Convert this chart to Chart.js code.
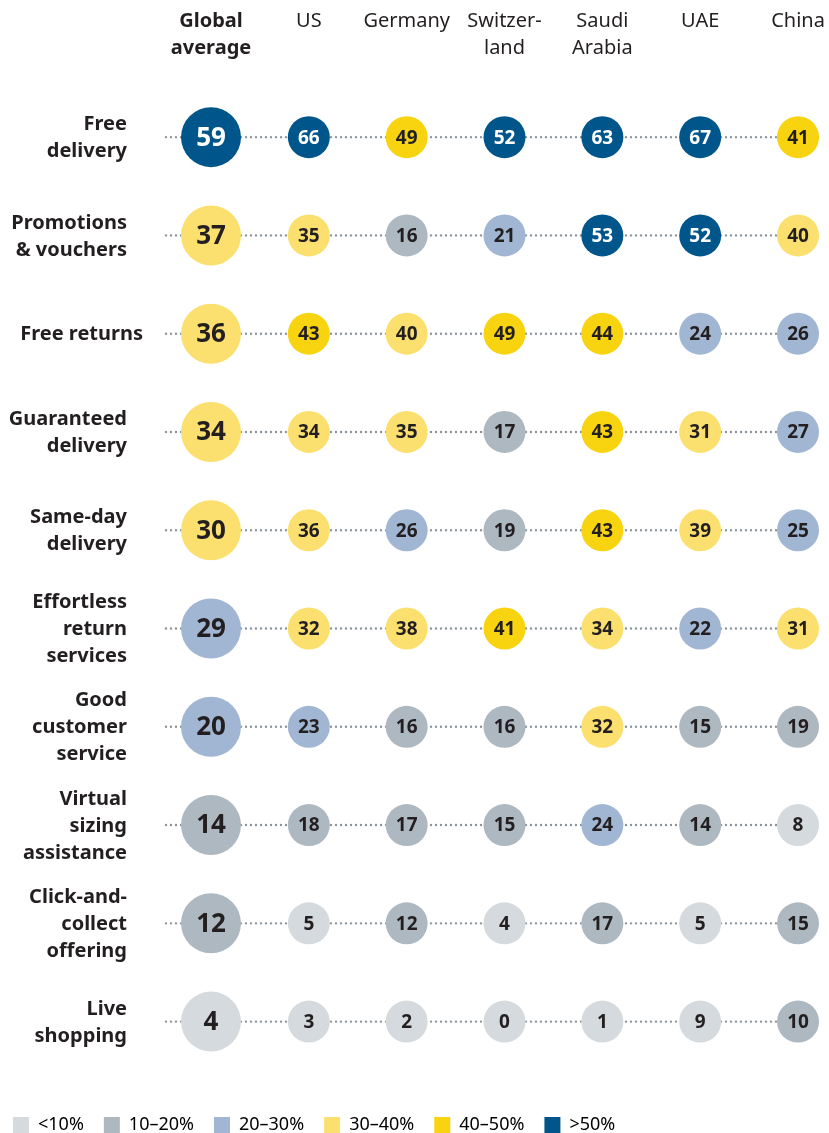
<!DOCTYPE html>
<html>
<head>
<meta charset="utf-8">
<script src="https://cdn.jsdelivr.net/npm/chart.js@4"></script>
<style>
  body { margin: 0; background: #fff; }
  #wrap { width: 829px; height: 1133px; }
</style>
</head>
<body>
<div id="wrap"><canvas id="bubbleChart" width="829" height="1133"></canvas></div>
<script>
// columns (countries) and their header lines
const columns = ['Global average', 'US', 'Germany', 'Switzerland', 'Saudi Arabia', 'UAE', 'China'];
const columnHeaders = [['Global', 'average'], ['US'], ['Germany'], ['Switzer-', 'land'], ['Saudi', 'Arabia'], ['UAE'], ['China']];

// rows (delivery / service features)
const features = [
    ['Free', 'delivery'],
    ['Promotions', '& vouchers'],
    ['Free returns'],
    ['Guaranteed', 'delivery'],
    ['Same-day', 'delivery'],
    ['Effortless', 'return', 'services'],
    ['Good', 'customer', 'service'],
    ['Virtual', 'sizing', 'assistance'],
    ['Click-and-', 'collect', 'offering'],
    ['Live', 'shopping']
];

// share of respondents, %, one array per column, in row order
const globalAvg   = [59, 37, 36, 34, 30, 29, 20, 14, 12, 4];
const us          = [66, 35, 43, 34, 36, 32, 23, 18, 5, 3];
const germany     = [49, 16, 40, 35, 26, 38, 16, 17, 12, 2];
const switzerland = [52, 21, 49, 17, 19, 41, 16, 15, 4, 0];
const saudi       = [63, 53, 44, 43, 43, 34, 32, 24, 17, 1];
const uae         = [67, 52, 24, 31, 39, 22, 15, 14, 5, 9];
const china       = [41, 40, 26, 27, 25, 31, 19, 8, 15, 10];

const binLabels = ['<10%', '10–20%', '20–30%', '30–40%', '40–50%', '>50%'];
const binColors = ['#d5dade', '#aeb8c1', '#a1b6d3', '#fbe06f', '#f8d30f', '#00568b'];

const seriesByColumn = [globalAvg, us, germany, switzerland, saudi, uae, china];

function binOf(v) {
    // printed values are rounded, 40 falls in the 30-40 band
    if (v < 10) return 0;
    if (v < 20) return 1;
    if (v < 30) return 2;
    if (v <= 40) return 3;
    if (v < 50) return 4;
    return 5;
}

const LINE_START = -0.46;   // dotted guides start a little left of the first column
const FONT = '"Noto Sans", sans-serif';
const INK = '#231f20';

const datasets = [];

// dotted row guides
features.forEach((f, r) => {
    datasets.push({
        type: 'line',
        data: [{ x: LINE_START, y: r }, { x: columns.length - 1, y: r }],
        borderColor: '#8b939b',
        borderWidth: 2.4,
        borderDash: [0, 5],
        borderCapStyle: 'round',
        pointRadius: 0,
        clip: false,
        order: 2
    });
});

// bubbles, one dataset per column
seriesByColumn.forEach((vals, c) => {
    datasets.push({
        type: 'bubble',
        label: columns[c],
        data: vals.map((v, r) => ({ x: c, y: r, r: c === 0 ? 30 : 21, v: v })),
        backgroundColor: vals.map(v => binColors[binOf(v)]),
        borderWidth: 0,
        clip: false,
        order: 1
    });
});

const textPlugin = {
    id: 'textPlugin',
    afterDatasetsDraw(chart) {
        const ctx = chart.ctx;
        const xs = chart.scales.x, ys = chart.scales.y;
        ctx.save();
        ctx.textAlign = 'center';
        ctx.textBaseline = 'middle';
        // numbers inside bubbles
        chart.data.datasets.forEach((ds, i) => {
            if (ds.type !== 'bubble') return;
            const meta = chart.getDatasetMeta(i);
            meta.data.forEach((el, j) => {
                const v = ds.data[j].v;
                const big = ds.data[j].r > 25;
                ctx.font = 'bold ' + (big ? 26 : 19) + 'px ' + FONT;
                ctx.fillStyle = binOf(v) === 5 ? '#ffffff' : INK;
                ctx.fillText(String(v), el.x, el.y + 1);
            });
        });
        // column headers
        columnHeaders.forEach((lines, c) => {
            ctx.font = (c === 0 ? 'bold ' : '') + '20px ' + FONT;
            ctx.fillStyle = INK;
            lines.forEach((t, k) => ctx.fillText(t, xs.getPixelForValue(c), 21 + k * 27));
        });
        // row labels
        ctx.textAlign = 'right';
        ctx.font = 'bold 20px ' + FONT;
        features.forEach((lines, r) => {
            const yc = ys.getPixelForValue(r) + 1;
            const right = lines.length === 1 ? 143 : 127;
            lines.forEach((t, k) => {
                ctx.fillText(t, right, yc + (k - (lines.length - 1) / 2) * 27);
            });
        });
        ctx.restore();
    }
};

new Chart(document.getElementById('bubbleChart'), {
    type: 'bubble',
    data: { datasets: datasets },
    options: {
        responsive: false,
        animation: false,
        events: [],
        layout: { padding: { left: -7, top: 88, right: 0, bottom: -11 } },
        scales: {
            x: { type: 'linear', min: -1.85, max: 6.01, display: false },
            y: { type: 'linear', min: -0.5, max: 9.757, reverse: true, display: false }
        },
        plugins: {
            tooltip: { enabled: false },
            legend: {
                position: 'bottom',
                align: 'start',
                onClick: null,
                labels: {
                    boxWidth: 16,
                    boxHeight: 16,
                    padding: 20,
                    color: '#333',
                    font: { family: FONT, size: 18 },
                    generateLabels: () => binLabels.map((t, i) => ({
                        text: t,
                        fillStyle: binColors[i],
                        strokeStyle: binColors[i],
                        lineWidth: 0,
                        hidden: false
                    }))
                }
            }
        }
    },
    plugins: [textPlugin]
});
</script>
</body>
</html>
